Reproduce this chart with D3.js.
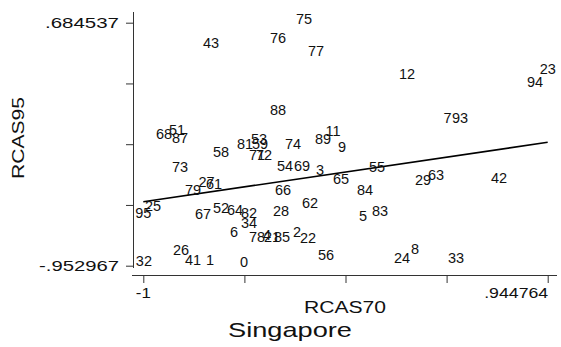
<!DOCTYPE html>
<html>
<head>
<meta charset="utf-8">
<script src="https://cdn.jsdelivr.net/npm/d3@7"></script>
<style>
  body { margin: 0; background: #fff; }
  text { font-family: "Liberation Sans", Arial, sans-serif; fill: #111; }
</style>
</head>
<body>
<div id="chart"></div>
<script>
// country ids used as marker labels
const ids = ["75", "76", "43", "77", "12", "23", "94", "88", "7", "93",
  "68", "51", "87", "11", "89", "81", "53", "59", "74", "9",
  "58", "71", "72", "73", "54", "69", "3", "65", "55", "29",
  "63", "42", "84", "27", "61", "79", "66", "62", "25", "95",
  "67", "52", "64", "82", "28", "5", "83", "34", "6", "2",
  "78", "4", "21", "85", "22", "26", "41", "1", "0", "32",
  "56", "8", "24", "33"];

// RCAS70 (x) values
const rcas70 = [-.2272, -.3522, -.6744, -.1695, .2681, .944764, .8837, -.3522, .4629, .5230,
  -.9005, -.8379, -.8235, -.0877, -.1358, -.5109, -.4436, -.4388, -.2801, -.0445,
  -.6263, -.4532, -.4196, -.8235, -.3186, -.2368, -.1502, -.0493, .1239, .3451,
  .4076, .7106, .0662, -.6961, -.6600, -.7610, -.3282, -.1983, -.9534, -1,
  -.7129, -.6263, -.5590, -.4917, -.3378, .0565, .1383, -.4917, -.5638, -.2609,
  -.4532, -.4051, -.3811, -.3330, -.2080, -.8187, -.7610, -.6792, -.5157, -.9970,
  -.1214, .3066, .2441, .5038];

// RCAS95 (y) values
const rcas95 = [.684537, .5545, .5208, .4736, .3186, .3523, .2580, .0693, .0221, .0221,
  -.0891, -.0621, -.1127, -.0655, -.1194, -.1531, -.1194, -.1565, -.1531, -.1733,
  -.2137, -.2339, -.2339, -.3081, -.3047, -.3047, -.3350, -.3890, -.3148, -.4024,
  -.3620, -.3822, -.4698, -.4125, -.4227, -.4698, -.4698, -.5574, -.5776, -.6181,
  -.6248, -.5844, -.5979, -.6181, -.6046, -.6383, -.6046, -.6855, -.7528, -.7461,
  -.7865, -.7730, -.7865, -.7865, -.7932, -.8741, -.9415, -.9415, -.952967, -.9480,
  -.9011, -.8607, -.9280, -.9280];

// fitted regression line, read at both ends of the x range
const fitX = [-1, .944764];
const fitY = [-.5217, -.1214];

const xTicks = [-1, .944764];
const yTicks = [-.952967, .684537];
const xTickLabels = ["-1", ".944764"];
const yTickLabels = ["-.952967", ".684537"];

const W = 561, H = 347;

const svg = d3.select("#chart")
  .append("svg")
  .attr("width", W)
  .attr("height", H);

const x = d3.scaleLinear()
  .domain([xTicks[0], xTicks[1]])
  .range([143.3, 547.7]);

const y = d3.scaleLinear()
  .domain([yTicks[0], yTicks[1]])
  .range([265.7, 22.7]);

// axes: 5 evenly spaced ticks, only the ends labelled
const xAll = d3.range(5).map(i => xTicks[0] + i * (xTicks[1] - xTicks[0]) / 4);
const yAll = d3.range(5).map(i => yTicks[0] + i * (yTicks[1] - yTicks[0]) / 4);

const xAxis = svg.append("g")
  .attr("transform", "translate(0, 275)")
  .call(d3.axisBottom(x).tickValues(xAll).tickSize(8).tickFormat("").tickSizeOuter(0));
xAxis.select(".domain").attr("d", "M132,0.5H557");

const yAxis = svg.append("g")
  .attr("transform", "translate(133, 0)")
  .call(d3.axisLeft(y).tickValues(yAll).tickSize(7).tickFormat("").tickSizeOuter(0));
yAxis.select(".domain").attr("d", "M0.5,12V268");

svg.selectAll(".domain, .tick line").attr("stroke", "#333").attr("stroke-width", 1);

// tick labels
svg.selectAll(".ytl")
  .data(yTicks)
  .join("text")
  .attr("class", "ytl")
  .attr("x", 119)
  .attr("y", d => y(d) + 5.5)
  .attr("text-anchor", "end")
  .attr("font-size", 15)
  .attr("textLength", (d, i) => i == 0 ? 80 : 74)
  .attr("lengthAdjust", "spacingAndGlyphs")
  .text((d, i) => yTickLabels[i]);

svg.selectAll(".xtl")
  .data(xTicks)
  .join("text")
  .attr("class", "xtl")
  .attr("x", (d, i) => i == 0 ? x(d) : x(d) + 0.5)
  .attr("y", 298)
  .attr("text-anchor", (d, i) => i == 0 ? "middle" : "end")
  .attr("font-size", 15)
  .attr("textLength", (d, i) => i == 0 ? 15 : 64)
  .attr("lengthAdjust", "spacingAndGlyphs")
  .text((d, i) => xTickLabels[i]);

// axis titles
svg.append("text")
  .attr("x", 345).attr("y", 313)
  .attr("text-anchor", "middle")
  .attr("font-size", 16)
  .attr("textLength", 82).attr("lengthAdjust", "spacingAndGlyphs")
  .text("RCAS70");

svg.append("text")
  .attr("transform", "translate(24, 138) rotate(-90)")
  .attr("text-anchor", "middle")
  .attr("font-size", 16)
  .attr("textLength", 82).attr("lengthAdjust", "spacingAndGlyphs")
  .text("RCAS95");

svg.append("text")
  .attr("x", 290).attr("y", 337)
  .attr("text-anchor", "middle")
  .attr("font-size", 21)
  .attr("textLength", 124).attr("lengthAdjust", "spacingAndGlyphs")
  .text("Singapore");

// fitted line
const fit = fitX.map((d, i) => [d, fitY[i]]);
svg.append("path")
  .datum(fit)
  .attr("fill", "none")
  .attr("stroke", "#000")
  .attr("stroke-width", 1.6)
  .attr("d", d3.line().x(d => x(d[0])).y(d => y(d[1])));

// scatter: labels used as markers
const pts = ids.map((d, i) => ({ id: d, rx: rcas70[i], ry: rcas95[i] }));
svg.append("g")
  .selectAll("text")
  .data(pts)
  .join("text")
  .attr("x", d => x(d.rx))
  .attr("y", d => y(d.ry) + 1.5)
  .attr("text-anchor", "middle")
  .attr("font-size", 14.5)
  .text(d => d.id);
</script>
</body>
</html>
